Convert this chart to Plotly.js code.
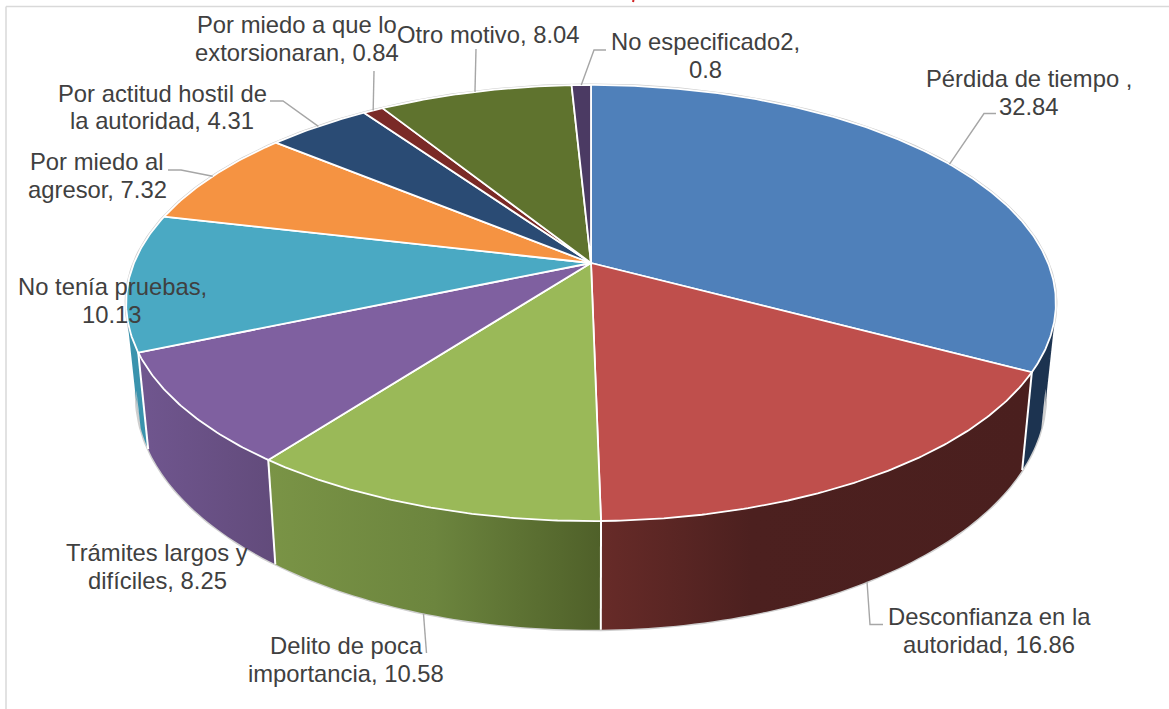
<!DOCTYPE html>
<html>
<head>
<meta charset="utf-8">
<script src="https://cdn.plot.ly/plotly-3.0.1.min.js"></script>
<style>html,body{margin:0;padding:0;background:#fff}#chart{width:1169px;height:709px}</style>
</head>
<body>
<div id="chart"></div>
<script>
// --- data, clockwise from 12 o'clock ---
const categories = ["Pérdida de tiempo ,", "Desconfianza en la autoridad", "Delito de poca importancia",
  "Trámites largos y difíciles", "No tenía pruebas", "Por miedo al agresor",
  "Por actitud hostil de la autoridad", "Por miedo a que lo extorsionaran", "Otro motivo", "No especificado2"];
const values = [32.84, 16.86, 10.58, 8.25, 10.13, 7.32, 4.31, 0.84, 8.04, 0.8];

// --- styles ---
const topColors = ["#4f80ba", "#bf4f4c", "#9ab958", "#7f60a0", "#4aa9c3", "#f59342", "#2a4b74", "#7a2a27", "#5f732e", "#4b3a63"];
const wallScales = [
  [[0, "#1c3350"], [1, "#1c3350"]],
  [[0, "#672b28"], [0.35, "#4c201f"], [1, "#4a1f1e"]],
  [[0, "#7a9446"], [0.5, "#6c853e"], [1, "#4f6029"]],
  [[0, "#70568f"], [1, "#624b7b"]],
  [[0, "#3a93ad"], [1, "#3a93ad"]],
  [[0, "#d07a32"], [1, "#d07a32"]],
  [[0, "#213a59"], [1, "#213a59"]],
  [[0, "#5a201e"], [1, "#5a201e"]],
  [[0, "#485824"], [1, "#485824"]],
  [[0, "#392c4a"], [1, "#392c4a"]]
];

// --- perspective of the tilted disc (top and bottom faces) ---
const cx = 591, persp = 0.1835;
const topFace = {a: 457, b: 210.7, y0: 263};
const botFace = {a: 447, b: 226, y0: 353};
function project(face, deg) {
  const t = deg * Math.PI / 180, u = Math.sin(t), v = Math.cos(t), w = 1 + persp * v;
  return [cx + face.a * u / w, face.y0 - face.b * v / w];
}

const total = values.reduce((s, d) => s + d, 0);
const starts = [];
let acc = 0;
values.forEach(d => { starts.push(acc / total * 360); acc += d; });
const ends = starts.map((s, i) => s + values[i] / total * 360);
const mids = starts.map((s, i) => (s + ends[i]) / 2);

function arcDegs(a, b, step) {
  const n = Math.max(2, Math.ceil((b - a) / step)), out = [];
  for (let i = 0; i <= n; i++) out.push(a + (b - a) * i / n);
  return out;
}
function signedArea(p) {
  let s = 0;
  for (let i = 0; i < p.length - 1; i++) s += p[i][0] * p[i + 1][1] - p[i + 1][0] * p[i][1];
  return s;
}

const traces = [];
// outer grey rim
[topFace, botFace].forEach(face => {
  const pts = arcDegs(0, 360, 1).map(d => project(face, d));
  traces.push({type: "scatter", mode: "lines", x: pts.map(p => p[0]), y: pts.map(p => p[1]),
    line: {color: "#cfcfcf", width: 3}, hoverinfo: "skip", showlegend: false});
});
// side walls, built from same-handed strips so that the silhouette is closed; front-most last
const wallOrder = [0, 4, 3, 1, 2];
wallOrder.forEach(i => {
  const a = Math.max(starts[i], 45), b = Math.min(ends[i], 315);
  if (b <= a) return;
  const ds = arcDegs(a, b, 1), xs = [], ys = [];
  for (let k = 0; k < ds.length - 1; k++) {
    let p = [project(topFace, ds[k]), project(topFace, ds[k + 1]), project(botFace, ds[k + 1]), project(botFace, ds[k]), project(topFace, ds[k])];
    if (signedArea(p) < 0) p = p.reverse();
    p.forEach(q => { xs.push(q[0]); ys.push(q[1]); });
    xs.push(null); ys.push(null);
  }
  traces.push({type: "scatter", mode: "lines", x: xs, y: ys, fill: "toself", connectgaps: false,
    fillgradient: {type: "horizontal", colorscale: wallScales[i]},
    line: {width: 0, color: "rgba(0,0,0,0)"}, name: categories[i], hoverinfo: "skip", showlegend: false});
});
// white seams on the visible walls (front half only)
ends.forEach(d => {
  if (d < 90 || d > 270) return;
  const p = project(topFace, d), q = project(botFace, d);
  traces.push({type: "scatter", mode: "lines", x: [p[0], q[0]], y: [p[1], q[1]],
    line: {color: "#ffffff", width: 2}, hoverinfo: "skip", showlegend: false});
});
// top face
values.forEach((val, i) => {
  const pts = arcDegs(starts[i], ends[i], 0.5).map(d => project(topFace, d));
  const xs = [cx].concat(pts.map(p => p[0]), [cx]);
  const ys = [topFace.y0].concat(pts.map(p => p[1]), [topFace.y0]);
  traces.push({type: "scatter", mode: "lines", x: xs, y: ys, fill: "toself", fillcolor: topColors[i],
    line: {color: "#ffffff", width: 1.8}, name: categories[i],
    text: categories[i] + ", " + val, hoverinfo: "text", showlegend: false});
});

// --- leader lines: start on the slice's rim, then elbows ---
const leaderFaces = [topFace, botFace, botFace, null, null, topFace, topFace, topFace, topFace, topFace];
const leaderElbows = [
  [[984, 113.5], [996, 113.5]],
  [[870, 624.5], [883, 624.5]],
  [[426.5, 653]],
  null, null,
  [[181, 170], [168, 170]],
  [[283, 101], [270, 101]],
  [[374, 71]],
  [[476, 49]],
  [[594, 50], [606, 50]]
];
leaderElbows.forEach((el, i) => {
  if (!el) return;
  const pts = [project(leaderFaces[i], mids[i])].concat(el);
  traces.push({type: "scatter", mode: "lines", x: pts.map(p => p[0]), y: pts.map(p => p[1]),
    line: {color: "#a6a6a6", width: 1.4}, hoverinfo: "skip", showlegend: false});
});

// --- labels, one annotation per line so the line gap can be tight ---
const labelLines = [
  ["Pérdida de tiempo ,", "32.84"],
  ["Desconfianza en la", "autoridad, 16.86"],
  ["Delito de poca", "importancia, 10.58"],
  ["Trámites largos y", "difíciles, 8.25"],
  ["No tenía pruebas,", "10.13"],
  ["Por miedo al", "agresor, 7.32"],
  ["Por actitud hostil de", "la autoridad, 4.31"],
  ["Por miedo a que lo", "extorsionaran, 0.84"],
  ["Otro motivo, 8.04"],
  ["No especificado2,", "0.8"]
];
const labelX = [1029, 989, 346, 157, 112, 97, 162, 297, 488, 705];
const labelY = [78.5, 616.5, 645.5, 552.5, 286.5, 161.5, 93, 24.5, 34, 41.5];
const lineGap = 27.5;
const annotations = [];
labelLines.forEach((lines, i) => lines.forEach((t, k) => annotations.push({
  text: t, x: labelX[i], y: labelY[i] + k * lineGap, xref: "x", yref: "y", xanchor: "center", yanchor: "middle",
  align: "center", showarrow: false, font: {family: "Liberation Sans, Arial, sans-serif", size: 23.8, color: "#404040"}
})));

const layout = {
  width: 1169, height: 709,
  margin: {l: 0, r: 0, t: 0, b: 0},
  paper_bgcolor: "#ffffff", plot_bgcolor: "#ffffff",
  xaxis: {range: [0, 1169], visible: false, fixedrange: true},
  yaxis: {range: [709, 0], visible: false, fixedrange: true},
  showlegend: false,
  annotations: annotations,
  shapes: [
    {type: "line", xref: "x", yref: "y", x0: 6, x1: 1169, y0: 6.5, y1: 6.5, line: {color: "#d9d9d9", width: 1.5}},
    {type: "line", xref: "x", yref: "y", x0: 6, x1: 6, y0: 6.5, y1: 709, line: {color: "#d9d9d9", width: 1.5}},
    {type: "line", xref: "x", yref: "y", x0: 633.5, x1: 633, y0: 0, y1: 2, line: {color: "#d02020", width: 2}}
  ]
};
Plotly.newPlot("chart", traces, layout, {staticPlot: true, displayModeBar: false});
</script>
</body>
</html>
